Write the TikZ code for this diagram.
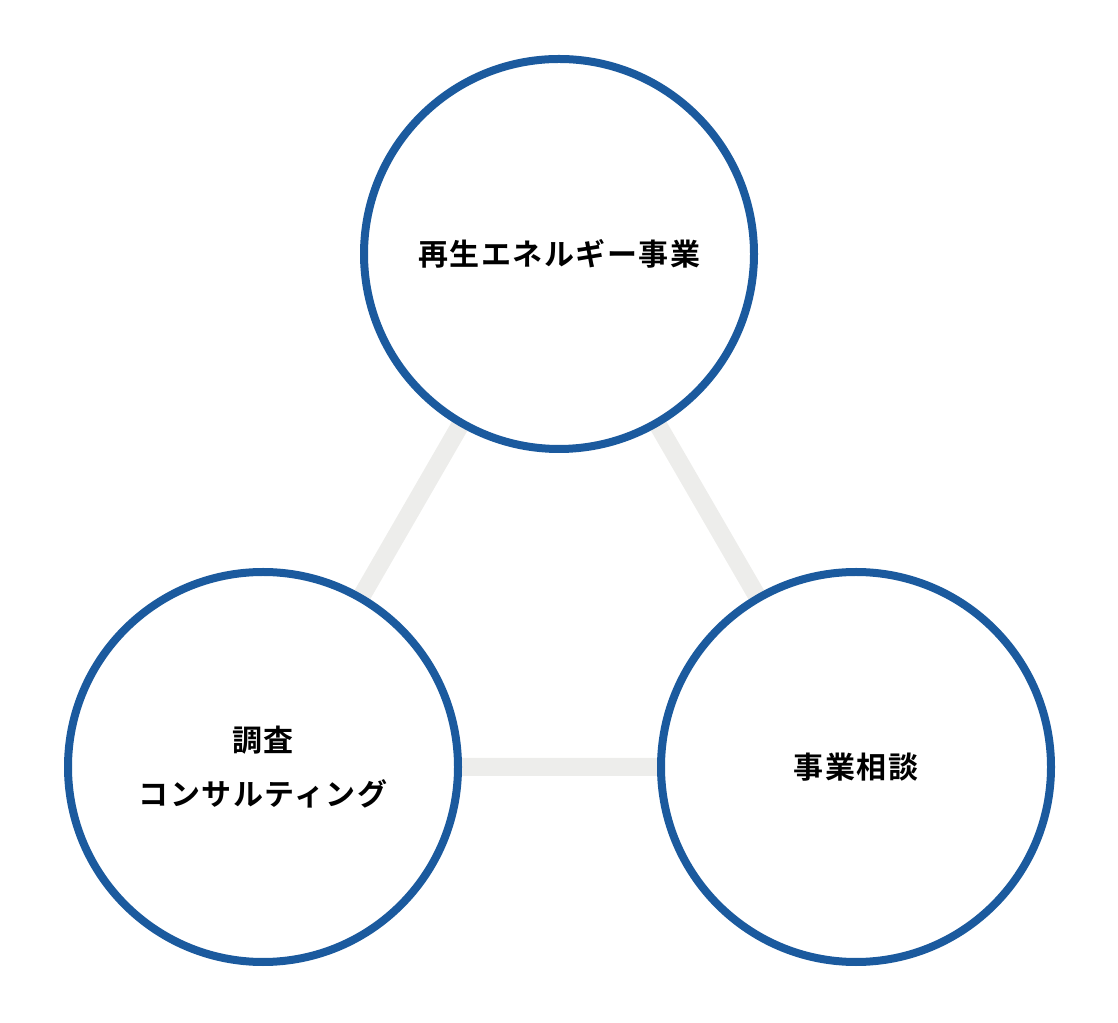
\documentclass[tikz,border=0pt]{standalone}
\usepackage{fontspec}
\newfontfamily\jpfont[LetterSpace=5]{Noto Sans CJK JP Bold}
\definecolor{ringblue}{HTML}{1B5A9E}
\definecolor{linkgray}{HTML}{EDEDEB}
\tikzset{
  ring/.style={circle, draw=ringblue, line width=8pt, fill=white, minimum size=390pt, inner sep=0pt, align=center, font=\jpfont\fontsize{30}{54}\selectfont},
  link/.style={draw=linkgray, line width=18pt}
}
\begin{document}
\begin{tikzpicture}[x=1pt,y=1pt]
\useasboundingbox (0,0) rectangle (1118,1022);
\coordinate (ct) at (559,768);
\coordinate (cl) at (263,255);
\coordinate (cr) at (856,255);
\draw[link] (ct) -- (cl) -- (cr) -- cycle;
\node[ring] (top) at (ct) {再生エネルギー事業};
\node[ring] (left) at (cl) {調査\\コンサルティング};
\node[ring] (right) at (cr) {事業相談};
\end{tikzpicture}
\end{document}
